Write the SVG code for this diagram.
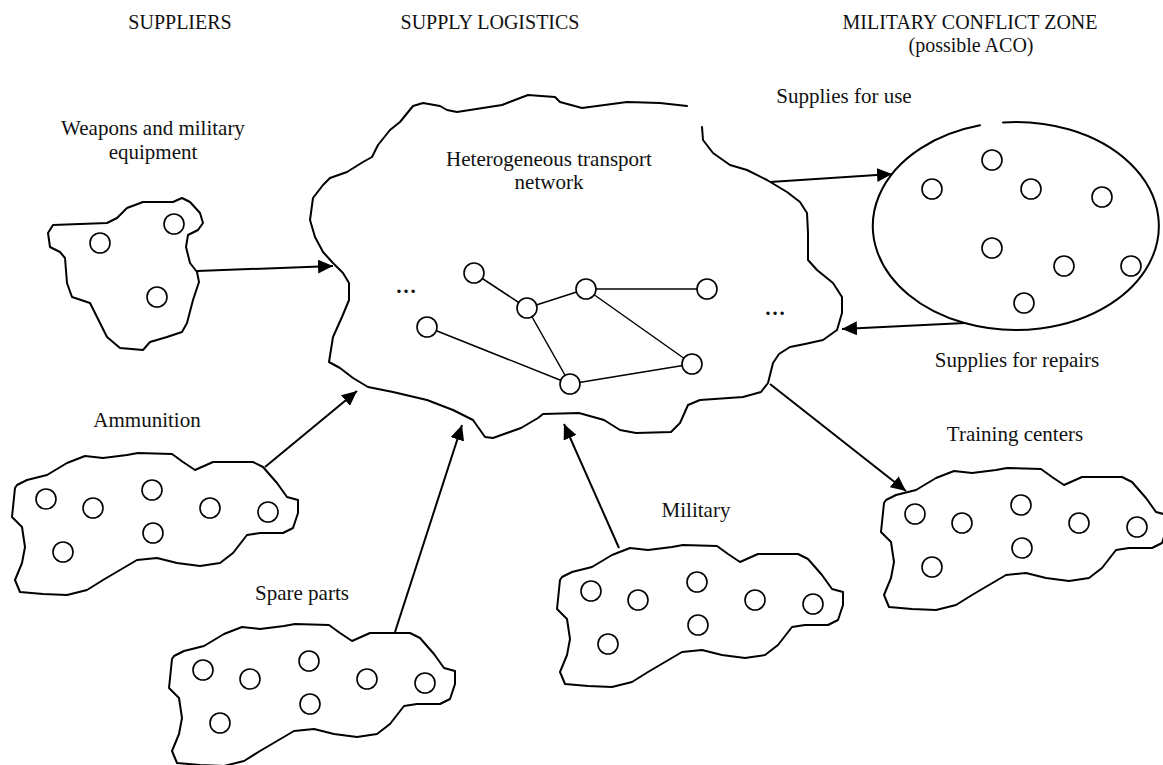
<svg xmlns="http://www.w3.org/2000/svg" xmlns:xlink="http://www.w3.org/1999/xlink" width="1163" height="765" viewBox="0 0 1163 765">
<style>
text{font-family:"Liberation Serif","Times New Roman",serif;font-size:21px;fill:#111;text-anchor:middle}
.hd{font-size:20px}
.dots{font-weight:bold}
.cl{fill:none;stroke:#000;stroke-width:2;stroke-linejoin:round;stroke-linecap:round}
.nd{fill:#fff;stroke:#000;stroke-width:1.6}
.ed{stroke:#000;stroke-width:1.5;fill:none}
.ar{stroke:#000;stroke-width:2;fill:none;marker-end:url(#ah)}
</style>
<defs>
<marker id="ah" markerUnits="userSpaceOnUse" markerWidth="16" markerHeight="14" refX="15" refY="7" orient="auto">
<path d="M0,0 L15,7 L0,14 Z" fill="#000"/>
</marker>
<g id="blob">
<path class="cl" d="M17 485 L27 480 L47 475 L67 463 L85 456 L103 458 L127 455 L138 453 L172 454 L183 462 L195 470 L213 462 L253 462 L263 467 L277 483 L287 497 L298 500 L298 513 L293 528 L283 533 L260 533 L247 535 L233 553 L220 563 L200 566 L177 563 L157 558 L137 560 L120 570 L103 580 L87 590 L67 595 L43 594 L20 592 L15 580 L22 563 L25 547 L22 527 L12 517 L15 488 Z"/>
<circle class="nd" cx="46" cy="499" r="10"/>
<circle class="nd" cx="93" cy="508" r="10"/>
<circle class="nd" cx="152" cy="490" r="10"/>
<circle class="nd" cx="210" cy="508" r="10"/>
<circle class="nd" cx="268" cy="512" r="10"/>
<circle class="nd" cx="63" cy="552" r="10"/>
<circle class="nd" cx="153" cy="533" r="10"/>
</g>
</defs>
<rect width="1163" height="765" fill="#fff"/>
<g id="headers">
<text class="hd" x="180" y="29">SUPPLIERS</text>
<text class="hd" x="490" y="29">SUPPLY LOGISTICS</text>
<text class="hd" x="970" y="29">MILITARY CONFLICT ZONE</text>
<text class="hd" x="971" y="52">(possible ACO)</text>
</g>
<g id="weapons">
<text x="153" y="135">Weapons and military</text>
<text x="153" y="159">equipment</text>
<path class="cl" d="M53 225 L107 223 L117 218 L127 208 L143 202 L173 202 L182 198 L190 202 L200 213 L203 223 L198 230 L188 235 L186 247 L190 263 L197 272 L199 282 L193 300 L187 323 L182 332 L167 337 L150 342 L143 350 L120 348 L107 337 L100 323 L90 303 L72 297 L67 283 L65 258 L60 252 L50 247 L48 233 Z"/>
<circle class="nd" cx="100" cy="243" r="10"/>
<circle class="nd" cx="174" cy="224" r="10"/>
<circle class="nd" cx="157" cy="297" r="10"/>
</g>
<g id="ammunition">
<text x="147" y="427">Ammunition</text>
<use xlink:href="#blob"/>
</g>
<g id="spare-parts">
<text x="302" y="600">Spare parts</text>
<use xlink:href="#blob" transform="translate(157,171)"/>
</g>
<g id="military">
<text x="696" y="517">Military</text>
<use xlink:href="#blob" transform="translate(545,92)"/>
</g>
<g id="training-centers">
<text x="1015" y="441">Training centers</text>
<use xlink:href="#blob" transform="translate(869,15)"/>
</g>
<g id="transport-network">
<path class="cl" d="M687 106 L660 103 L627 102 L582 108 L560 102 L555 97 L528 95 L502 105 L457 112 L447 110 L440 106 L423 103 L413 106 L400 122 L390 130 L378 145 L372 157 L363 162 L347 172 L330 178 L323 185 L313 198 L310 220 L315 237 L323 252 L333 263 L343 273 L349 283 L349 300 L342 317 L333 337 L329 362 L340 368 L353 378 L368 387 L393 392 L427 400 L453 410 L473 420 L485 437 L493 438 L521 428 L538 418 L543 414 L579 413 L604 420 L620 430 L636 433 L671 432 L680 423 L688 405 L700 400 L743 397 L761 392 L768 383 L773 363 L779 354 L790 347 L805 344 L823 340 L837 330 L842 313 L842 297 L833 283 L817 270 L808 260 L808 233 L807 213 L800 202 L787 192 L767 180 L747 170 L730 165 L713 153 L703 140 L702 127"/>
<text x="549" y="166">Heterogeneous transport</text>
<text x="549" y="189">network</text>
<text class="dots" x="406" y="293">…</text>
<text class="dots" x="775" y="315">…</text>
<line class="ed" x1="474" y1="273" x2="527" y2="308"/>
<line class="ed" x1="527" y1="308" x2="586" y2="289"/>
<line class="ed" x1="586" y1="289" x2="707" y2="289"/>
<line class="ed" x1="527" y1="308" x2="570" y2="384"/>
<line class="ed" x1="586" y1="289" x2="692" y2="364"/>
<line class="ed" x1="427" y1="327" x2="570" y2="384"/>
<line class="ed" x1="570" y1="384" x2="692" y2="364"/>
<circle class="nd" cx="474" cy="273" r="10"/>
<circle class="nd" cx="527" cy="308" r="10"/>
<circle class="nd" cx="586" cy="289" r="10"/>
<circle class="nd" cx="707" cy="289" r="10"/>
<circle class="nd" cx="427" cy="327" r="10"/>
<circle class="nd" cx="692" cy="364" r="10"/>
<circle class="nd" cx="570" cy="384" r="10"/>
</g>
<g id="conflict-zone">
<path class="cl" d="M1003 122.4 A143 104 0 1 1 980 125.3"/>
<circle class="nd" cx="992" cy="160" r="10"/>
<circle class="nd" cx="932" cy="189" r="10"/>
<circle class="nd" cx="1031" cy="189" r="10"/>
<circle class="nd" cx="1102" cy="197" r="10"/>
<circle class="nd" cx="992" cy="248" r="10"/>
<circle class="nd" cx="1064" cy="266" r="10"/>
<circle class="nd" cx="1131" cy="266" r="10"/>
<circle class="nd" cx="1024" cy="303" r="10"/>
</g>
<g id="connectors">
<line class="ar" x1="197" y1="271" x2="333" y2="266"/>
<line class="ar" x1="265" y1="467" x2="357" y2="391"/>
<line class="ar" x1="395" y1="632" x2="462" y2="425"/>
<line class="ar" x1="619" y1="548" x2="564" y2="424"/>
<line class="ar" x1="770" y1="182" x2="892" y2="174"/>
<line class="ar" x1="965" y1="323" x2="842" y2="329"/>
<line class="ar" x1="770" y1="384" x2="906" y2="491"/>
<text x="844" y="103">Supplies for use</text>
<text x="1017" y="367">Supplies for repairs</text>
</g>
</svg>
